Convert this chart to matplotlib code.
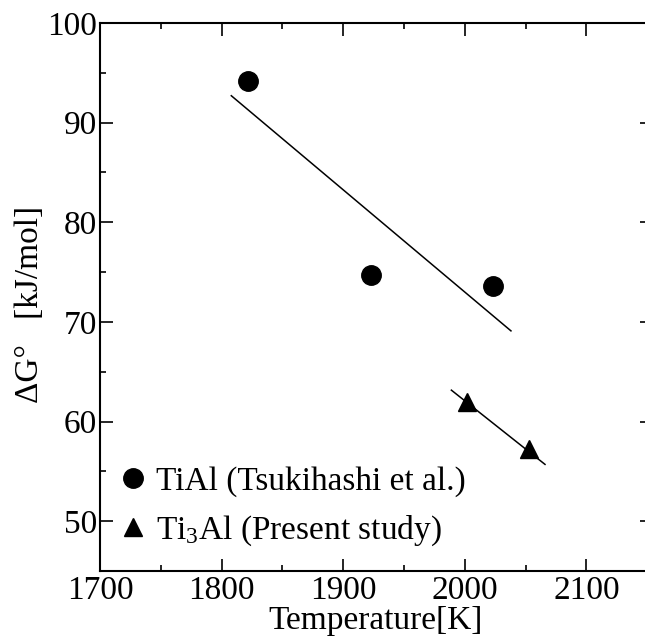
#!/usr/bin/env python3

import matplotlib

matplotlib.use("Agg")
import matplotlib.pyplot as plt
from matplotlib.ticker import MultipleLocator

# TiAl data (Tsukihashi et al.)
tial_temp = [1822, 1923, 2023]
tial_dg = [94.2, 74.7, 73.6]
tial_fit_temp = [1808, 2038]
tial_fit_dg = [92.7, 69.1]

# Ti3Al data (present study)
ti3al_temp = [2002, 2053]
ti3al_dg = [62.0, 57.2]
ti3al_fit_temp = [1989, 2066]
ti3al_fit_dg = [63.15, 55.7]

x_ticks = [1700, 1800, 1900, 2000, 2100]
y_ticks = [50, 60, 70, 80, 90, 100]


def main() -> None:
    plt.rcParams["font.family"] = ["Liberation Serif", "DejaVu Serif"]
    plt.rcParams["mathtext.fontset"] = "custom"
    plt.rcParams["mathtext.rm"] = "Liberation Serif"
    plt.rcParams["mathtext.it"] = "Liberation Serif"

    fig = plt.figure(figsize=(6.45, 6.39), dpi=100)
    ax = fig.add_axes([100 / 645, 68 / 639, 552 / 645, 548 / 639])

    ax.plot(tial_fit_temp, tial_fit_dg, color="black", lw=1.1)
    ax.plot(ti3al_fit_temp, ti3al_fit_dg, color="black", lw=1.1)
    ax.plot(tial_temp, tial_dg, "o", color="black", ms=14,
            label="TiAl (Tsukihashi et al.)")
    ax.plot(ti3al_temp, ti3al_dg, "^", color="black", ms=13,
            label=r"Ti$_{3}$Al (Present study)")

    ax.set_xlim(1700, 2154)
    ax.set_ylim(45, 100)
    ax.set_xticks(x_ticks)
    ax.set_yticks(y_ticks)
    ax.xaxis.set_minor_locator(MultipleLocator(50))
    ax.yaxis.set_minor_locator(MultipleLocator(5))
    ax.tick_params(which="both", direction="in", top=True, right=True,
                   width=1.2, labelsize=24)
    ax.tick_params(which="major", length=9)
    ax.tick_params(which="minor", length=4.5)
    ax.tick_params(axis="y", pad=2)
    ax.tick_params(axis="x", pad=3)
    for sp in ax.spines.values():
        sp.set_linewidth(1.5)
    # the right frame edge falls just outside the picture
    ax.spines["right"].set_visible(False)

    ax.set_xlabel("Temperature[K]", fontsize=24, labelpad=0)
    ax.set_ylabel("\u0394G\u00b0   [kJ/mol]", fontsize=24)
    ax.yaxis.set_label_coords(-0.099, 0.486)

    ax.legend(loc="lower left", bbox_to_anchor=(-0.004, 0.005), frameon=False,
              fontsize=24, handlelength=0.9, handletextpad=0.25,
              labelspacing=0.51, borderaxespad=0.2)

    fig.savefig("out.png", dpi=100)


if __name__ == "__main__":
    main()
